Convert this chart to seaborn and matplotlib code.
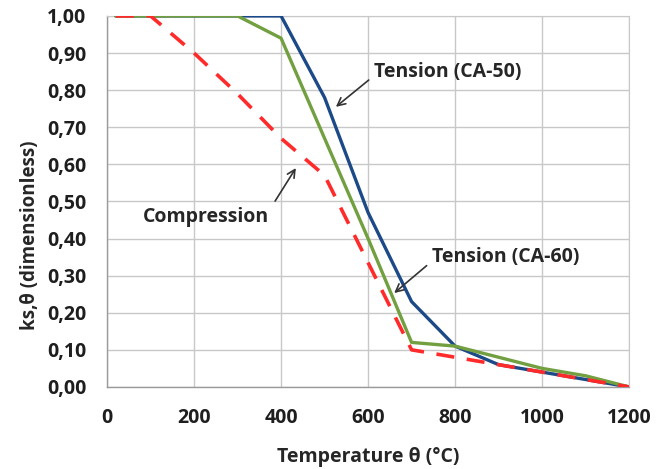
import matplotlib
matplotlib.use("Agg")
import matplotlib.pyplot as plt
import pandas as pd
import seaborn as sns

# temperatures (°C) and reduction factors ks,θ
temp_ca50 = [20, 100, 200, 300, 400, 500, 600, 700, 800, 900, 1000, 1100, 1200]
ks_ca50 = [1.00, 1.00, 1.00, 1.00, 1.00, 0.78, 0.47, 0.23, 0.11, 0.06, 0.04, 0.02, 0.00]

temp_ca60 = [20, 100, 200, 300, 400, 500, 600, 700, 800, 900, 1000, 1100, 1200]
ks_ca60 = [1.00, 1.00, 1.00, 1.00, 0.94, 0.67, 0.40, 0.12, 0.11, 0.08, 0.05, 0.03, 0.00]

temp_comp = [20, 100, 200, 300, 400, 500, 600, 700, 800, 900, 1000, 1100, 1200]
ks_comp = [1.00, 1.00, 0.90, 0.79, 0.67, 0.57, 0.335, 0.10, 0.08, 0.06, 0.04, 0.02, 0.00]

x_ticks = [0, 200, 400, 600, 800, 1000, 1200]
y_ticks = [0.0, 0.1, 0.2, 0.3, 0.4, 0.5, 0.6, 0.7, 0.8, 0.9, 1.0]

sns.set_style("white")
plt.rcParams["font.family"] = ["Open Sans", "DejaVu Sans"]
plt.rcParams["font.weight"] = "bold"

fig = plt.figure(figsize=(6.65, 4.69), dpi=100)
ax = fig.add_axes([0.161, 0.175, 0.785, 0.791])

comp = pd.DataFrame({"temp": temp_comp, "ks": ks_comp})
ca60 = pd.DataFrame({"temp": temp_ca60, "ks": ks_ca60})
ca50 = pd.DataFrame({"temp": temp_ca50, "ks": ks_ca50})

sns.lineplot(data=ca50, x="temp", y="ks", ax=ax, color="#1c4a88", lw=2.4, zorder=3)
sns.lineplot(data=ca60, x="temp", y="ks", ax=ax, color="#72a040", lw=2.4, zorder=4)
sns.lineplot(data=comp, x="temp", y="ks", ax=ax, color="#ff2a2a", lw=2.6,
             dashes=False, zorder=5)
ax.lines[-1].set_dashes([5, 3.5])

ax.set_xlim(0, 1200)
ax.set_ylim(0, 1.0)
ax.set_xticks(x_ticks)
ax.set_yticks(y_ticks)
fs = 14
ax.set_xticklabels([str(t) for t in x_ticks], fontsize=fs, fontweight="bold", color="#1e1e1e")
ax.set_yticklabels([f"{v:.2f}".replace(".", ",") for v in y_ticks], fontsize=fs,
                   fontweight="bold", color="#1e1e1e")
ax.grid(True, color="#c8c8c8", lw=1.0)
ax.set_axisbelow(True)
for side in ["top", "right"]:
    ax.spines[side].set_color("#c8c8c8")
for side in ["left", "bottom"]:
    ax.spines[side].set_color("#9a9a9a")
    ax.spines[side].set_linewidth(1.0)
ax.tick_params(axis="both", length=4, color="#9a9a9a")
ax.tick_params(axis="x", pad=11)
ax.tick_params(axis="y", pad=11)

ax.set_xlabel("Temperature θ (°C)", fontsize=14, fontweight="bold", va="center")
ax.xaxis.set_label_coords(0.5, -0.189)
ax.set_ylabel("ks,θ (dimensionless)", fontsize=13.5, fontweight="bold", va="center")
ax.yaxis.set_label_coords(-0.148, 0.41)

arrow = dict(arrowstyle="->", color="#333333", lw=1.2, mutation_scale=14)
ax.annotate("Tension (CA-50)", xy=(526, 0.755), xytext=(614, 0.85),
            fontsize=fs, fontweight="bold", va="center", ha="left",
            arrowprops=dict(arrow, shrinkA=2, shrinkB=0, relpos=(0, 0.3)))
ax.annotate("Tension (CA-60)", xy=(660, 0.253), xytext=(747, 0.35),
            fontsize=fs, fontweight="bold", va="center", ha="left",
            arrowprops=dict(arrow, shrinkA=2, shrinkB=0, relpos=(0, 0.3)))
ax.annotate("Compression", xy=(434, 0.59), xytext=(82, 0.458),
            fontsize=fs, fontweight="bold", va="center", ha="left",
            arrowprops=dict(arrow, shrinkA=4, shrinkB=0, relpos=(1, 0.8)))

fig.savefig("out.png", dpi=100)
